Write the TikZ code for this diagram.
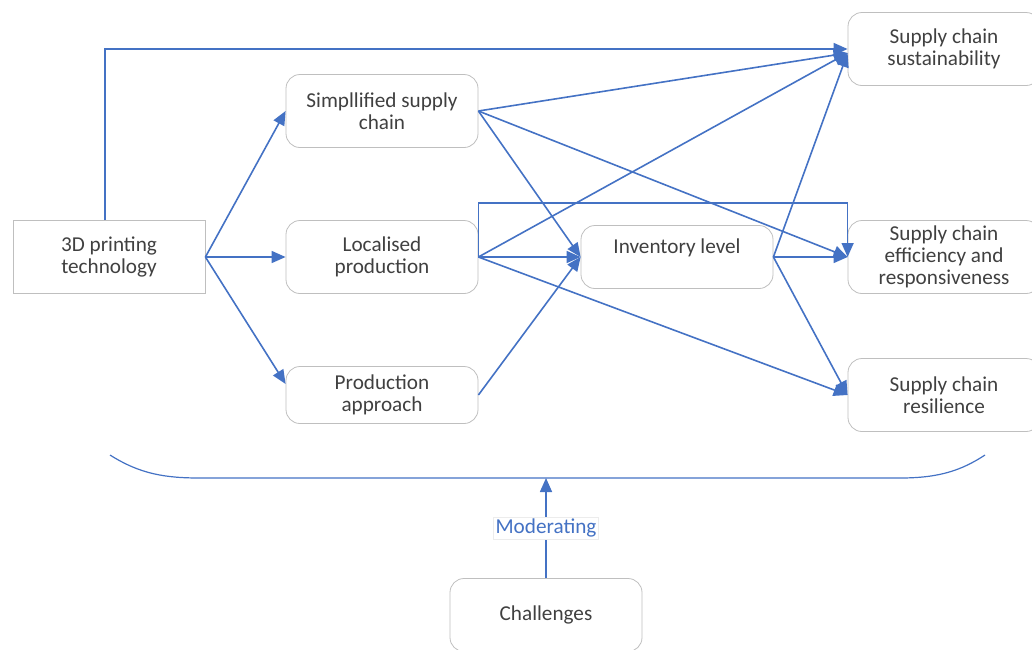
\documentclass[tikz,border=0pt]{standalone}
\usepackage{fontspec}
\setmainfont{Carlito}
\usetikzlibrary{arrows.meta}
\definecolor{linkblue}{HTML}{4472C4}
\definecolor{boxgray}{HTML}{BFBFBF}
\definecolor{textgray}{HTML}{404040}

\begin{document}
\begin{tikzpicture}[x=0.5pt, y=-0.5pt,
                    every node/.style={align=center, text=textgray, font=\fontsize{10.6}{11}\selectfont},
                    box/.style={draw=boxgray, rounded corners=7pt, minimum width=96pt, minimum height=36.5pt, inner sep=1pt},
                    plainbox/.style={draw=boxgray, minimum width=96pt, minimum height=36.5pt, inner sep=1pt},
                    link/.style={draw=linkblue, line width=0.8pt, -{Triangle[length=7pt, width=6pt]}}
                ]
                \useasboundingbox (0,0) rectangle (1032,649);
                \clip (0,0) rectangle (1032,649);
                % left column
                \node[plainbox] (tech) at (109,257) {3D printing \\ technology};
                \node[box] (simp) at (382,111) {Simpllified supply \\ chain};
                \node[box] (local) at (382,257) {Localised \\ production};
                \node[box, minimum height=28.5pt] (prod) at (382,395) {Production \\ approach};
                \node[box, minimum height=31.5pt] (inv) at (677,257) {Inventory level \\ {}};
                % outcomes
                \node[box] (sust) at (944,49) {Supply chain \\ sustainability};
                \node[box] (eff) at (944,257) {Supply chain \\ efficiency and \\ responsiveness};
                \node[box] (res) at (944,395) {Supply chain \\ resilience};
                \node[box] (chall) at (546,615) {Challenges};
                % links
                \draw[link] (tech.north -| 105,0) |- (sust.west);
                \draw[link] (tech.east) -- (simp.west);
                \draw[link] (tech.east) -- (local.west);
                \draw[link] (tech.east) -- ([yshift=5.5pt]prod.west);
                \draw[link] (simp.east) -- ([yshift=-2pt]sust.west);
                \draw[link] (simp.east) -- (inv.west);
                \draw[link] (simp.east) -- (eff.west);
                \draw[link] (local.east) -- ([yshift=-2pt]sust.west);
                \draw[link] (local.east) -- (inv.west);
                \draw[link] (local.east) -- (res.west);
                \draw[link] (local.east) |- (eff.west |- 0,203) -- (eff.west);
                \draw[link] (prod.east) -- (inv.west);
                \draw[link] (inv.east) -- ([yshift=-2pt]sust.west);
                \draw[link] (inv.east) -- (eff.west);
                \draw[link] (inv.east) -- (res.west);
                % moderating bracket
                \coordinate (brl) at (110,455);
                \coordinate (brr) at (985,455);
                \coordinate (brm) at (546,478);
                \draw[linkblue, line width=0.6pt] (brl) .. controls (140,474) and (165,478) .. (200,478) -- (900,478) .. controls (940,478) and (962,470) .. (brr);
                \draw[link] (chall.north) -- node[fill=white, draw=gray!15, line width=0.3pt, inner sep=1pt, text=linkblue] {Moderating} (brm);
                \end{tikzpicture}
\end{document}
